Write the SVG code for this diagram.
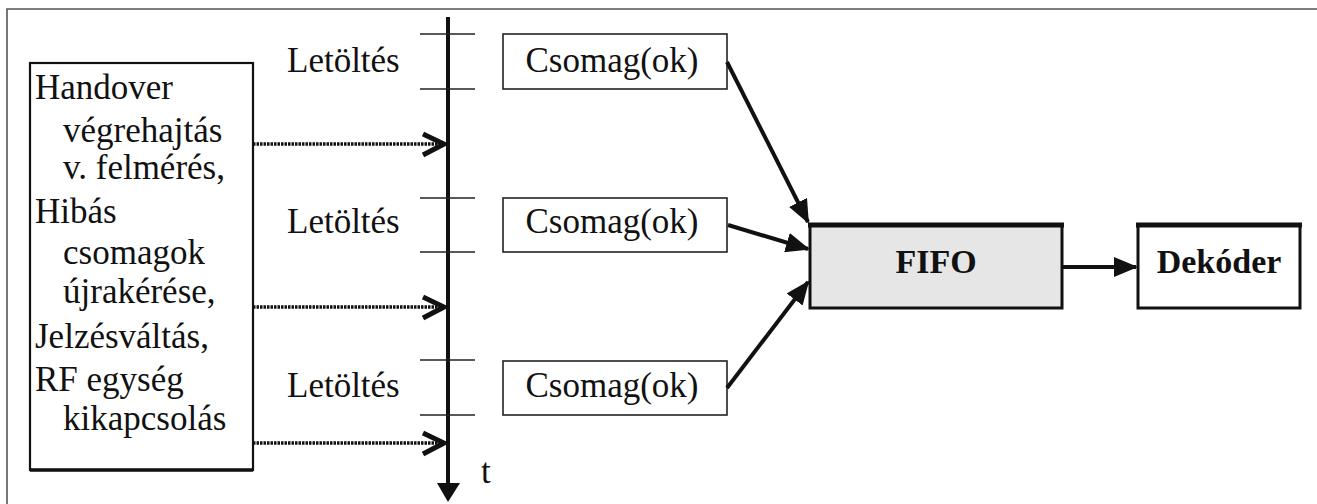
<svg xmlns="http://www.w3.org/2000/svg" width="1317" height="504" viewBox="0 0 1317 504">
<style>
.t{font-family:"Liberation Serif","Times New Roman",Times,Tinos,"Noto Serif","DejaVu Serif",serif;font-size:35px;fill:#111}
.b{font-family:"Liberation Serif","Times New Roman",Times,Tinos,"Noto Serif","DejaVu Serif",serif;font-size:34px;font-weight:bold;fill:#111}
.box{fill:#fff;stroke:#222;stroke-width:1.6}
.tick{stroke:#222;stroke-width:1.5}
.dot{stroke:#111;stroke-width:3.5;stroke-dasharray:2.5 1;fill:none}
.chev{stroke:#111;stroke-width:5;fill:none;stroke-linejoin:miter}
.ar{stroke:#111;stroke-width:4;fill:none}
</style>
<defs>
<marker id="ah" markerWidth="6" markerHeight="5" refX="5.5" refY="2.5" orient="auto" markerUnits="strokeWidth">
<path d="M0,0 L6,2.5 L0,5 z" fill="#111"/>
</marker>
</defs>
<rect width="1317" height="504" fill="#fff"/>
<g id="frame">
<path d="M7,504 V9 H1317" fill="none" stroke="#555" stroke-width="1.6"/>
</g>
<g id="events">
<rect x="30" y="63" width="223" height="407" fill="#fff" stroke="#111" stroke-width="2.2"/>
<line x1="30" y1="470" x2="253" y2="470" stroke="#111" stroke-width="3.5"/>
<text class="t" x="35" y="99">Handover</text>
<text class="t" x="63" y="142">végrehajtás</text>
<text class="t" x="63" y="179">v. felmérés,</text>
<text class="t" x="35" y="223">Hibás</text>
<text class="t" x="63" y="264">csomagok</text>
<text class="t" x="63" y="303">újrakérése,</text>
<text class="t" x="35" y="348">Jelzésváltás,</text>
<text class="t" x="35" y="391">RF egység</text>
<text class="t" x="63" y="430">kikapcsolás</text>
</g>
<g id="timeline">
<line x1="448" y1="17" x2="448" y2="486" stroke="#111" stroke-width="4"/>
<path d="M437,483 L460,483 L448,502 z" fill="#111"/>
<line class="tick" x1="420" y1="34" x2="475" y2="34"/>
<line class="tick" x1="420" y1="89" x2="475" y2="89"/>
<line class="tick" x1="420" y1="198" x2="475" y2="198"/>
<line class="tick" x1="420" y1="252" x2="475" y2="252"/>
<line class="tick" x1="420" y1="360" x2="475" y2="360"/>
<line class="tick" x1="420" y1="415" x2="475" y2="415"/>
<text class="t" x="287" y="72">Letöltés</text>
<text class="t" x="287" y="233">Letöltés</text>
<text class="t" x="287" y="397">Letöltés</text>
<text class="t" x="481" y="483">t</text>
</g>
<g id="packet1">
<rect class="box" x="503" y="34" width="224" height="55"/>
<text class="t" x="612" y="72" text-anchor="middle">Csomag(ok)</text>
</g>
<g id="packet2">
<rect class="box" x="503" y="198" width="224" height="54"/>
<text class="t" x="612" y="233" text-anchor="middle">Csomag(ok)</text>
</g>
<g id="packet3">
<rect class="box" x="503" y="361" width="224" height="54"/>
<text class="t" x="612" y="397" text-anchor="middle">Csomag(ok)</text>
</g>
<g id="fifo">
<rect x="810" y="225" width="252" height="83" fill="#e6e6e6" stroke="#111" stroke-width="3"/>
<line x1="808" y1="225" x2="1064" y2="225" stroke="#111" stroke-width="5"/>
<text class="b" x="936" y="273" text-anchor="middle">FIFO</text>
</g>
<g id="decoder">
<rect x="1138" y="225" width="162" height="83" fill="#fff" stroke="#111" stroke-width="3"/>
<line x1="1136" y1="225" x2="1302" y2="225" stroke="#111" stroke-width="5"/>
<text class="b" x="1219" y="273" text-anchor="middle">Dekóder</text>
</g>
<g id="connectors">
<line class="dot" x1="253" y1="144" x2="440" y2="144"/>
<line class="dot" x1="253" y1="307" x2="440" y2="307"/>
<line class="dot" x1="253" y1="443" x2="440" y2="443"/>
<polyline class="chev" points="423,134 444,144 423,155"/>
<polyline class="chev" points="423,297 444,307 423,318"/>
<polyline class="chev" points="423,433 444,443 423,454"/>
<line class="ar" x1="727" y1="62" x2="808" y2="222" marker-end="url(#ah)"/>
<line class="ar" x1="728" y1="225" x2="808" y2="249" marker-end="url(#ah)"/>
<line class="ar" x1="727" y1="388" x2="808" y2="282" marker-end="url(#ah)"/>
<line class="ar" x1="1062" y1="267" x2="1136" y2="267" marker-end="url(#ah)"/>
</g>
</svg>
